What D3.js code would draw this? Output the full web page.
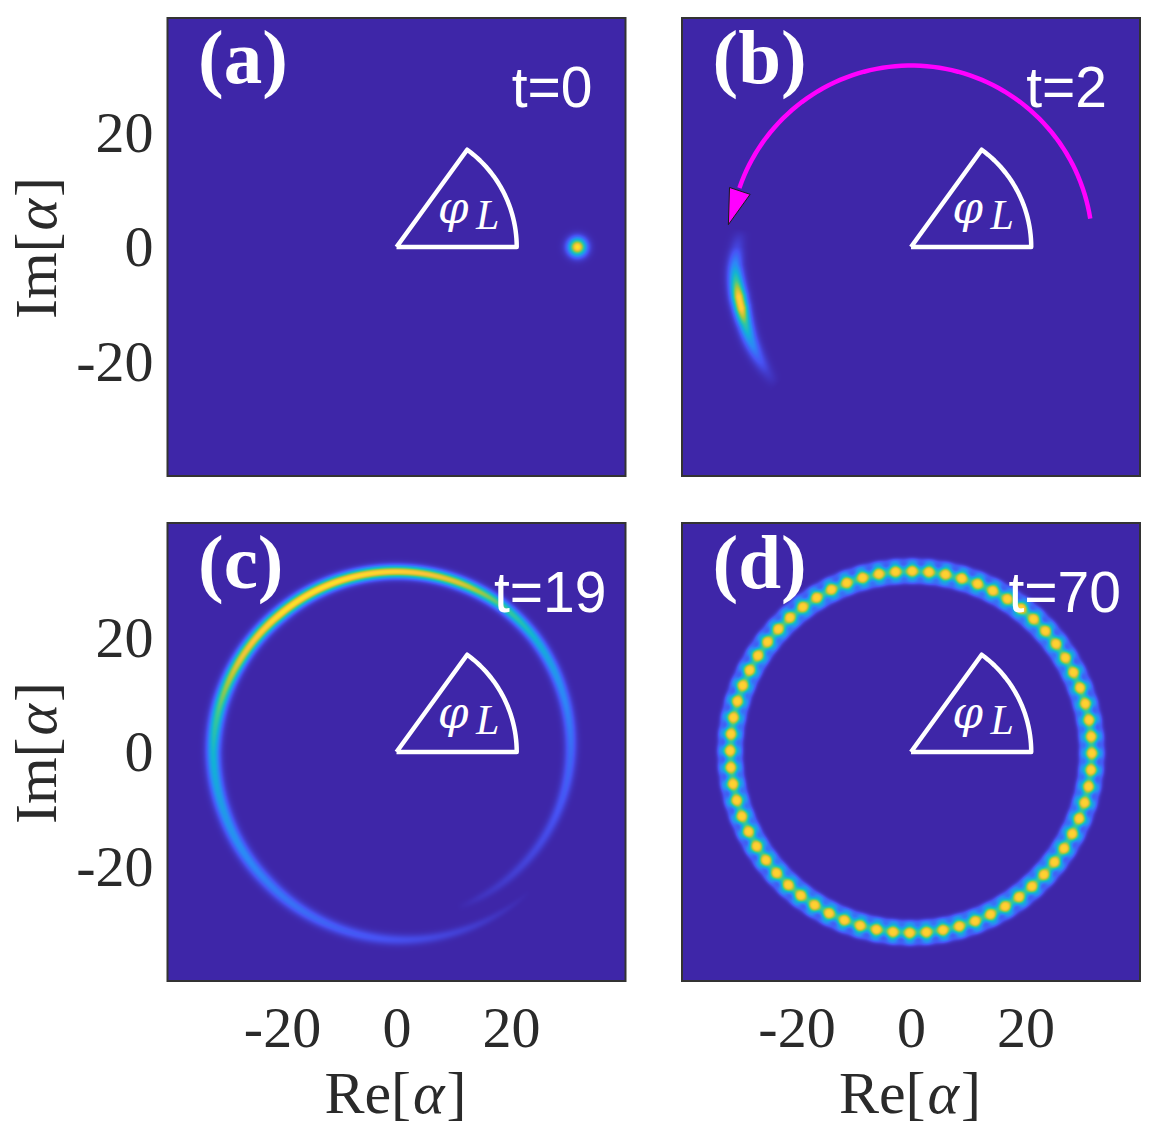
<!DOCTYPE html>
<html>
<head>
<meta charset="utf-8">
<script src="https://cdn.jsdelivr.net/npm/d3@7"></script>
<style>
  html, body { margin: 0; padding: 0; background: #fff; }
  svg { display: block; }
  text { font-family: "Liberation Serif", serif; }
</style>
</head>
<body>
<svg id="figure" width="1166" height="1129"></svg>
<script>
// Phase-space distributions of a driven oscillator at four times.
const panelNames = ["(a)", "(b)", "(c)", "(d)"];
const timeLabels = ["t=0", "t=2", "t=19", "t=70"];
const tickValues = [-20, 0, 20];
const axisDomain = [-40, 40];

// Colour map stops (low to high density).
const parulaStops = ["#3e26a8", "#4752f4", "#2d87f7", "#12b1d6", "#37c897", "#abc739", "#fec338", "#f9fb15"];

// Sector marking the lobe angle: radius and opening in degrees.
const sectorRadius = 21;
const sectorAngle = 54;

// Rotation arrow of panel (b): radius, sweep in degrees, head vertices.
const arrowRadius = 31.7;
const arrowSweep = [9, 161];
const arrowHead = [[-31.7, 10.4], [-28.1, 9.2], [-31.9, 3.9]];

// Panel (a): coherent state [re, im, width, peak].
const coherentState = [31.6, 0, 1.05, 0.95];

// Arms are lists of [angle deg, radius, peak, width].
const crescentArm = [
  [174, 29.9, 0.00, 0.85], [180, 30.4, 0.10, 0.85], [186, 30.9, 0.32, 0.88], [191, 31.1, 0.58, 0.90],
  [196, 31.3, 0.90, 0.90], [200, 31.5, 0.90, 0.88], [205, 31.9, 0.55, 0.88], [210, 32.4, 0.35, 0.88],
  [216, 32.9, 0.18, 0.85], [221, 33.3, 0.07, 0.80], [226, 33.7, 0.00, 0.75]
];
const clockwiseArm = [
  [-69, 29.2, 0.00, 0.45], [-60, 29.3, 0.04, 0.50], [-45, 29.5, 0.08, 0.58], [-25, 29.9, 0.13, 0.65],
  [0, 30.4, 0.21, 0.72], [20, 30.8, 0.30, 0.72], [40, 31.3, 0.44, 0.72], [55, 31.5, 0.60, 0.72],
  [70, 31.5, 0.80, 0.72], [90, 31.5, 0.90, 0.72]
];
const anticlockwiseArm = [
  [90, 31.5, 0.90, 0.72], [110, 31.5, 0.94, 0.75], [130, 31.5, 0.94, 0.78], [150, 31.7, 0.82, 0.80],
  [165, 31.9, 0.62, 0.82], [180, 32.0, 0.45, 0.82], [200, 31.9, 0.35, 0.82], [225, 32.0, 0.26, 0.80],
  [250, 32.4, 0.18, 0.72], [270, 32.8, 0.13, 0.68], [290, 33.2, 0.08, 0.55], [305, 33.5, 0.03, 0.42], [314, 33.7, 0.00, 0.35]
];

// Panel (d): angular positions of the interference peaks on the ring, in degrees.
const ringPeaks = [
  89.6, 94.9, 100.2, 105.5, 110.8, 116.1, 121.4, 126.7, 132.0, 137.2, 142.5, 147.8,
  153.1, 158.4, 163.7, 169.0, 174.3, 179.6, 184.9, 190.2, 195.5, 200.8, 206.1, 211.4,
  216.7, 222.0, 227.3, 232.5, 237.8, 243.1, 248.4, 253.7, 259.0, 264.3, 269.6, 274.9,
  280.2, 285.5, 290.8, 296.1, 301.4, 306.7, 312.0, 317.3, 322.5, 327.8, 333.1, 338.4,
  343.7, 349.0, 354.3, 359.6, 4.9, 10.2, 15.5, 20.8, 26.1, 31.4, 36.7, 42.0,
  47.3, 52.5, 57.8, 63.1, 68.4, 73.7, 79.0, 84.3
];
const ringRadius = 31.6;
const ringPeak = 0.9;

// Layout of the 2x2 grid in page pixels.
const panelSize = 458;
const columnX = [167.5, 682];
const rowY = [18, 523];

const svg = d3.select("#figure");
const colour = d3.scaleLinear()
  .domain(parulaStops.map((_, i) => i / (parulaStops.length - 1)))
  .range(parulaStops)
  .interpolate(d3.interpolateRgb)
  .clamp(true);

const toRad = d => d * Math.PI / 180;

// Density along a polar arm, with parameters interpolated between its knots.
function sampleArm(arm) {
  const angles = arm.map(k => k[0]);
  const rad = d3.scaleLinear().domain(angles).range(arm.map(k => k[1]));
  const peak = d3.scaleLinear().domain(angles).range(arm.map(k => k[2]));
  const wid = d3.scaleLinear().domain(angles).range(arm.map(k => k[3]));
  const lo = angles[0], hi = angles[angles.length - 1];
  return (re, im) => {
    const r = Math.hypot(re, im);
    let a = Math.atan2(im, re) * 180 / Math.PI;
    while (a < lo) a += 360;
    while (a - 360 >= lo) a -= 360;
    if (a > hi) return 0;
    const dr = r - rad(a), w = wid(a);
    return peak(a) * Math.exp(-dr * dr / (2 * w * w));
  };
}

const crescent = sampleArm(crescentArm);
const cwArm = sampleArm(clockwiseArm);
const ccwArm = sampleArm(anticlockwiseArm);

// Ring of interference peaks with a faint scalloped rim on both sides.
function ringDensity(re, im) {
  const r = Math.hypot(re, im);
  const dr = r - ringRadius;
  if (Math.abs(dr) > 5) return 0;
  const a = Math.atan2(im, re) * 180 / Math.PI;
  let s = 0;
  for (const p of ringPeaks) {
    let da = Math.abs(a - p) % 360;
    if (da > 180) da = 360 - da;
    const ds = toRad(da) * r;
    if (ds < 6) s += Math.exp(-ds * ds / (2 * 0.93 * 0.93));
  }
  const c = Math.min(1, s * Math.exp(-dr * dr / (2 * 0.95 * 0.95)));
  const core = c * c * (3 - 2 * c);
  const d = Math.abs(dr) - 1.75;
  const rim = (0.08 + 0.14 * Math.min(1, s)) * Math.exp(-d * d / (2 * 0.4 * 0.4));
  return ringPeak * core + rim;
}

const densities = [
  (re, im) => {
    const [x0, y0, w, p] = coherentState;
    const d2 = (re - x0) ** 2 + (im - y0) ** 2;
    return p * Math.exp(-d2 / (2 * w * w));
  },
  crescent,
  (re, im) => cwArm(re, im) + ccwArm(re, im),
  ringDensity
];

function densityImage(fn, x, y) {
  const c = document.createElement("canvas");
  c.width = c.height = panelSize;
  const g = c.getContext("2d");
  const img = g.createImageData(panelSize, panelSize);
  for (let j = 0; j < panelSize; j++) {
    for (let i = 0; i < panelSize; i++) {
      const col = d3.rgb(colour(fn(x.invert(i + 0.5), y.invert(j + 0.5))));
      const o = 4 * (j * panelSize + i);
      img.data[o] = col.r; img.data[o + 1] = col.g; img.data[o + 2] = col.b; img.data[o + 3] = 255;
    }
  }
  g.putImageData(img, 0, 0);
  return c.toDataURL();
}

const tickText = d => String(d);
const labelInk = "#2a2a2a";

panelNames.forEach((name, idx) => {
  const col = idx % 2, row = Math.floor(idx / 2);
  const x = d3.scaleLinear().domain(axisDomain).range([0, panelSize]);
  const y = d3.scaleLinear().domain(axisDomain).range([panelSize, 0]);
  const g = svg.append("g").attr("transform", `translate(${columnX[col]},${rowY[row]})`);

  g.append("image")
    .attr("width", panelSize).attr("height", panelSize)
    .attr("href", densityImage(densities[idx], x, y));

  // Sector outline
  const arcPts = d3.range(0, sectorAngle + 1, 2).map(a => [sectorRadius * Math.cos(toRad(a)), sectorRadius * Math.sin(toRad(a))]);
  const sectorPts = [[0, 0], ...arcPts, [0, 0]];
  const line = d3.line().x(d => x(d[0])).y(d => y(d[1]));
  g.append("path")
    .attr("d", line(sectorPts))
    .attr("fill", "none").attr("stroke", "#fff")
    .attr("stroke-width", 4.5).attr("stroke-linejoin", "round");

  // Lobe-angle symbol
  g.append("text")
    .attr("x", x(7.2)).attr("y", y(4.2))
    .attr("fill", "#fff").attr("font-size", 44).attr("font-style", "italic")
    .style("font-family", "'DejaVu Serif', serif")
    .text("\u03c6");
  g.append("text")
    .attr("x", x(13.9)).attr("y", y(3.2))
    .attr("fill", "#fff").attr("font-size", 42).attr("font-style", "italic")
    .text("L");

  if (idx === 1) {
    const sweep = d3.range(arrowSweep[0], arrowSweep[1] + 1, 2)
      .map(a => [arrowRadius * Math.cos(toRad(a)), arrowRadius * Math.sin(toRad(a))]);
    g.append("path").attr("d", line(sweep))
      .attr("fill", "none").attr("stroke", "#ff00ff").attr("stroke-width", 4.5);
    g.append("path").attr("d", line(arrowHead) + "Z")
      .attr("fill", "#ff00ff").attr("stroke", "#1a1a1a").attr("stroke-width", 1);
  }

  // Panel letter and time stamp
  g.append("text")
    .attr("x", 30.5).attr("y", 65)
    .attr("fill", "#fff").attr("font-weight", "bold").attr("font-size", 77)
    .text(name);
  g.append("text")
    .attr("x", panelSize - 33 + (row === 1 ? 14 : 0))
    .attr("y", 89)
    .attr("text-anchor", "end")
    .attr("fill", "#fff").attr("font-size", 57)
    .style("font-family", "'Liberation Sans', sans-serif")
    .text(timeLabels[idx]);

  // Frame
  g.append("rect")
    .attr("width", panelSize).attr("height", panelSize)
    .attr("fill", "none").attr("stroke", "#333").attr("stroke-width", 2);

  // Axes: labels only on the outer edges
  if (col === 0) {
    const ax = g.append("g")
      .call(d3.axisLeft(y).tickValues(tickValues).tickSize(0).tickPadding(14).tickFormat(tickText));
    ax.select(".domain").remove();
    ax.selectAll("text")
      .attr("font-size", 58).attr("fill", labelInk)
      .style("font-family", "'Liberation Serif', serif");
    g.append("text")
      .attr("transform", `translate(-112,${panelSize / 2 + 1}) rotate(-90)`)
      .attr("text-anchor", "middle").attr("font-size", 60).attr("fill", labelInk)
      .html('Im[<tspan font-style="italic" dx="2">\u03b1</tspan><tspan dx="2">]</tspan>');
  }
  if (row === 1) {
    const ax = g.append("g").attr("transform", `translate(0,${panelSize})`)
      .call(d3.axisBottom(x).tickValues(tickValues).tickSize(0).tickFormat(tickText));
    ax.select(".domain").remove();
    ax.selectAll("text")
      .attr("font-size", 58).attr("fill", labelInk).attr("dy", 0).attr("y", 66)
      .style("font-family", "'Liberation Serif', serif");
    g.append("text")
      .attr("x", panelSize / 2 - 1).attr("y", panelSize + 132)
      .attr("text-anchor", "middle").attr("font-size", 60).attr("fill", labelInk)
      .html('Re[<tspan font-style="italic" dx="2">\u03b1</tspan><tspan dx="2">]</tspan>');
  }
});
</script>
</body>
</html>
